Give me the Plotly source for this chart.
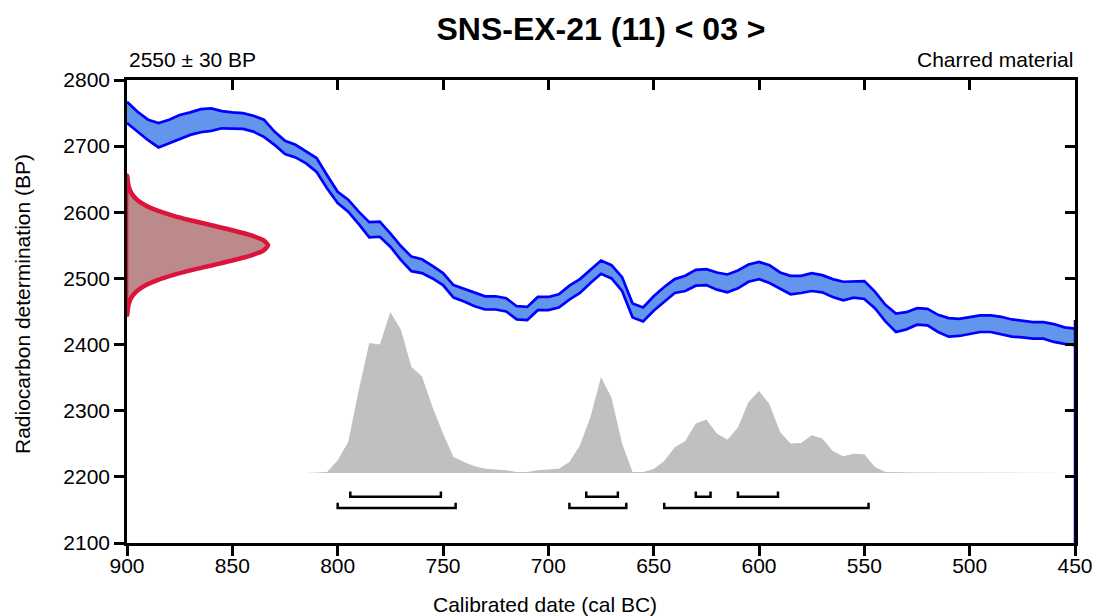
import plotly.graph_objects as go

# ---------------- data ----------------
title_text = "SNS-EX-21 (11) &lt; 03 &gt;"
date_label = "2550 ± 30 BP"
material_label = "Charred material"
x_title = "Calibrated date (cal BC)"
y_title = "Radiocarbon determination (BP)"

x_ticks = [900, 850, 800, 750, 700, 650, 600, 550, 500, 450]
y_ticks = [2100, 2200, 2300, 2400, 2500, 2600, 2700, 2800]

# calibration curve (cal BC), 5-year grid
curve_years = list(range(900, 445, -5))
curve_upper = [2767, 2752, 2740, 2735, 2740, 2747, 2751, 2756, 2757, 2753,
               2751, 2750, 2746, 2740, 2722, 2708, 2702, 2692, 2682, 2656,
               2631, 2619, 2601, 2585, 2586, 2568, 2549, 2533, 2529, 2519,
               2508, 2490, 2484, 2478, 2473, 2473, 2470, 2458, 2457, 2472,
               2472, 2476, 2489, 2499, 2513, 2527, 2520, 2502, 2462, 2456,
               2473, 2487, 2499, 2504, 2513, 2514, 2509, 2506, 2512, 2521,
               2525, 2520, 2509, 2504, 2504, 2508, 2505, 2499, 2495, 2496,
               2496, 2480, 2460, 2447, 2449, 2455, 2454, 2445, 2440, 2439,
               2442, 2444, 2444, 2442, 2438, 2436, 2434, 2434, 2431, 2426,
               2424]
curve_lower = [2735, 2722, 2709, 2698, 2704, 2710, 2717, 2721, 2723, 2727,
               2727, 2726, 2722, 2714, 2702, 2688, 2683, 2674, 2661, 2636,
               2614, 2601, 2582, 2562, 2563, 2548, 2528, 2511, 2508, 2500,
               2490, 2471, 2465, 2458, 2453, 2453, 2450, 2438, 2437, 2452,
               2452, 2456, 2468, 2478, 2493, 2507, 2500, 2481, 2441, 2435,
               2451, 2465, 2478, 2481, 2489, 2490, 2483, 2479, 2485, 2495,
               2499, 2493, 2484, 2476, 2478, 2481, 2479, 2472, 2467, 2471,
               2469, 2455, 2435, 2419, 2423, 2430, 2429, 2419, 2412, 2413,
               2416, 2419, 2419, 2416, 2412, 2411, 2409, 2409, 2404, 2401,
               2399]

# radiocarbon measurement 2550 +/- 30 BP (relative probability)
meas_bp = [2445.0, 2452.5, 2460.0, 2467.5, 2475.0, 2482.5, 2490.0, 2497.5,
           2505.0, 2512.5, 2520.0, 2527.5, 2535.0, 2542.5, 2550.0, 2557.5,
           2565.0, 2572.5, 2580.0, 2587.5, 2595.0, 2602.5, 2610.0, 2617.5,
           2625.0, 2632.5, 2640.0, 2647.5, 2655.0]
meas_prob = [0.0022, 0.0051, 0.0111, 0.0228, 0.0439, 0.0796, 0.1353, 0.2163,
             0.3247, 0.4578, 0.6065, 0.7548, 0.8825, 0.9692, 1.0, 0.9692,
             0.8825, 0.7548, 0.6065, 0.4578, 0.3247, 0.2163, 0.1353, 0.0796,
             0.0439, 0.0228, 0.0111, 0.0051, 0.0022]

# calibrated distribution (relative probability)
dist_years = list(range(815, 445, -5))
dist_prob = [0.0, 0.003, 0.006, 0.079, 0.193, 0.514, 0.807, 0.798, 1.0, 0.891,
             0.658, 0.601, 0.410, 0.245, 0.099, 0.068, 0.042, 0.027, 0.023, 0.017,
             0.006, 0.006, 0.017, 0.021, 0.027, 0.068, 0.172, 0.348, 0.596, 0.468,
             0.183, 0.006, 0.006, 0.025, 0.075, 0.160, 0.199, 0.307, 0.332, 0.245,
             0.207, 0.282, 0.441, 0.509, 0.427, 0.255, 0.183, 0.186, 0.234, 0.214,
             0.137, 0.104, 0.120, 0.116, 0.037, 0.006, 0.004, 0.003, 0.003, 0.003,
             0.003, 0.003, 0.003, 0.003, 0.003, 0.003, 0.003, 0.003, 0.003, 0.003,
             0.002, 0.002, 0.002, 0.0]

# highest posterior density ranges (cal BC)
range68_start = [794, 682, 630, 610]
range68_end = [751, 667, 623, 591]
range95_start = [800, 690, 645]
range95_end = [744, 663, 548]

# ---------------- styling ----------------
FONT = "Liberation Sans, Arial, Helvetica, sans-serif"
BLACK = "#000000"
LW = 2.5

fig = go.Figure()

# calibrated distribution (gray)
fig.add_trace(go.Scatter(
    x=dist_years, y=dist_prob, xaxis="x", yaxis="y3",
    mode="lines", line=dict(width=0, color="#C0C0C0"),
    fill="tozeroy", fillcolor="#C0C0C0", hoverinfo="skip", showlegend=False))

# calibration curve band
fig.add_trace(go.Scatter(
    x=curve_years, y=curve_lower, mode="lines",
    line=dict(color="#0000FF", width=2.7), hoverinfo="skip", showlegend=False))
fig.add_trace(go.Scatter(
    x=curve_years, y=curve_upper, mode="lines",
    line=dict(color="#0000FF", width=2.7), fill="tonexty",
    fillcolor="#6495ED", hoverinfo="skip", showlegend=False))

# dark blue closing edge at right
fig.add_trace(go.Scatter(
    x=[curve_years[-1], curve_years[-1]], y=[y_ticks[0], curve_upper[-1] + 13],
    mode="lines", line=dict(color="#00007A", width=2.5),
    hoverinfo="skip", showlegend=False))

# measurement (red gaussian on y axis)
gx = [0.0] + meas_prob + [0.0, 0.0]
gy = [meas_bp[0]] + meas_bp + [meas_bp[-1], meas_bp[0]]
fig.add_trace(go.Scatter(
    x=gx, y=gy, xaxis="x3", yaxis="y", mode="lines",
    line=dict(color="#DC143C", width=4.5, shape="spline", smoothing=0.6),
    fill="toself", fillcolor="#BC8A8A", hoverinfo="skip", showlegend=False))

# range brackets
def brackets(starts, ends, level, tick):
    xs, ys = [], []
    for s, e in zip(starts, ends):
        xs += [s, s, e, e, None]
        ys += [level + tick, level, level, level + tick, None]
    return xs, ys

bx, by = brackets(range68_start, range68_end, 2170, 8)
fig.add_trace(go.Scatter(x=bx, y=by, mode="lines",
                         line=dict(color=BLACK, width=2.5),
                         hoverinfo="skip", showlegend=False))
bx, by = brackets(range95_start, range95_end, 2153, 8)
fig.add_trace(go.Scatter(x=bx, y=by, mode="lines",
                         line=dict(color=BLACK, width=2.5),
                         hoverinfo="skip", showlegend=False))

# dummy traces to activate the extra tick axes
for xa, ya in (("x2", "y"), ("x", "y2"), ("x4", "y")):
    fig.add_trace(go.Scatter(x=[x_ticks[0]], y=[y_ticks[0]], xaxis=xa, yaxis=ya,
                             mode="markers", marker=dict(opacity=0),
                             hoverinfo="skip", showlegend=False))

axis_common = dict(showgrid=False, zeroline=False, showline=True,
                   linecolor=BLACK, linewidth=LW, tickcolor=BLACK,
                   tickwidth=LW, ticklen=10, automargin=False,
                   tickfont=dict(family=FONT, size=21, color=BLACK))
x_labels_axis = dict(axis_common, ticklen=2)

fig.update_layout(
    width=1094, height=616, autosize=False,
    margin=dict(l=127, r=19, t=80, b=73, autoexpand=False),
    paper_bgcolor="white", plot_bgcolor="white",
    font=dict(family=FONT, size=21, color=BLACK),
    title=dict(text="<b>" + title_text + "</b>", x=601 / 1094, xanchor="center",
               y=1 - 29 / 616, yanchor="middle",
               font=dict(family=FONT, size=32, color=BLACK)),
    xaxis=dict(range=[900, 450], tickvals=x_ticks, ticks="outside", **x_labels_axis),
    xaxis2=dict(range=[900, 450], tickvals=x_ticks, ticks="inside",
                overlaying="x", side="top", anchor="y",
                showticklabels=False, **axis_common),
    xaxis3=dict(range=[0, 948 / 141], overlaying="x", anchor="y", visible=False,
                automargin=False),
    xaxis4=dict(range=[900, 450], tickvals=x_ticks, ticks="outside",
                overlaying="x", side="bottom", anchor="y",
                showticklabels=False, **axis_common),
    yaxis=dict(range=[2100, 2800], tickvals=y_ticks, ticks="outside", **axis_common),
    yaxis2=dict(range=[2100, 2800], tickvals=y_ticks, ticks="inside",
                overlaying="y", side="right", anchor="x",
                showticklabels=False, **axis_common),
    yaxis3=dict(range=[-70 / 161, (463 - 70) / 161], overlaying="y", anchor="x",
                visible=False, automargin=False),
    annotations=[
        dict(text=date_label, xref="paper", yref="paper", x=0, y=1 + 20 / 463,
             xanchor="left", yanchor="middle", showarrow=False,
             font=dict(family=FONT, size=21, color=BLACK)),
        dict(text=material_label, xref="paper", yref="paper", x=1, y=1 + 20 / 463,
             xanchor="right", yanchor="middle", showarrow=False,
             font=dict(family=FONT, size=21, color=BLACK)),
        dict(text=x_title, xref="paper", yref="paper", x=(545 - 127) / 948,
             y=-61 / 463, xanchor="center", yanchor="middle", showarrow=False,
             font=dict(family=FONT, size=21, color=BLACK)),
        dict(text=y_title, xref="paper", yref="paper", x=(22 - 127) / 948,
             y=(543 - 304) / 463, xanchor="center", yanchor="middle",
             textangle=-90, showarrow=False,
             font=dict(family=FONT, size=21, color=BLACK)),
    ],
)

fig.write_html(
    "out.html",
    config={"responsive": False, "displayModeBar": False},
    post_script=(
        "document.body.style.margin='0px';"
        "document.body.style.overflow='hidden';"
        "Plotly.relayout('{plot_id}', {width: 1094, height: 616});"
    ),
)
